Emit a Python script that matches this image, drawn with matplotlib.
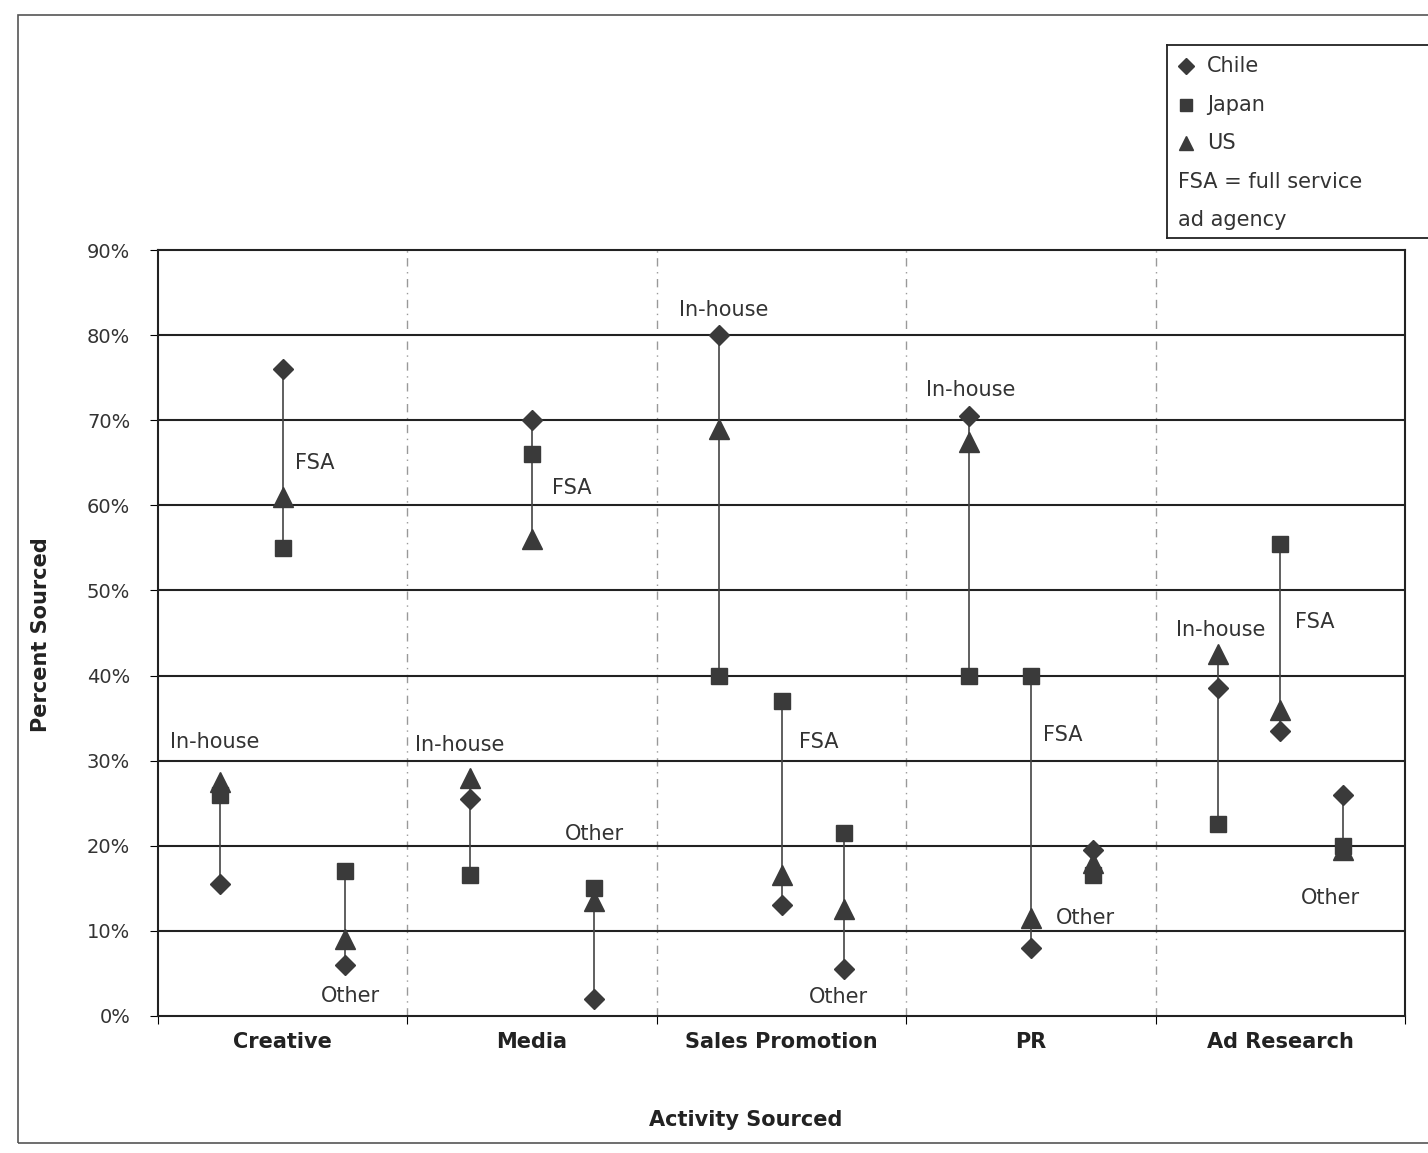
import numpy as np
import matplotlib
matplotlib.use('Agg')
import matplotlib.pyplot as plt
from matplotlib.lines import Line2D
from matplotlib.patches import Rectangle

categories = ['Creative', 'Media', 'Sales Promotion', 'PR', 'Ad Research']
sources = ['In-house', 'FSA', 'Other']
# percent sourced, per category: [In-house, FSA, Other]
chile = [[15.5, 76, 6], [25.5, 70, 2], [80, 13, 5.5], [70.5, 8, 19.5], [38.5, 33.5, 26]]
japan = [[26, 55, 17], [16.5, 66, 15], [40, 37, 21.5], [40, 40, 16.5], [22.5, 55.5, 20]]
us = [[27.5, 61, 9], [28, 56, 13.5], [69, 16.5, 12.5], [67.5, 11.5, 18], [42.5, 36, 19.5]]
# where the source labels sit (x in category units, y in percent)
label_x = [[0.05, 0.55, 0.77], [1.03, 1.58, 1.75], [2.27, 2.57, 2.73], [3.26, 3.55, 3.6], [4.26, 4.56, 4.70]]
label_y = [[32.2, 65, 2.3], [31.8, 62, 21.4], [83, 32.2, 2.2], [73.6, 33, 11.5], [45.4, 46.3, 13.8]]
label_ha = [['left', 'left', 'center'], ['left', 'left', 'center'], ['center', 'left', 'center'],
            ['center', 'left', 'left'], ['center', 'left', 'center']]

offsets = [-0.25, 0.0, 0.25]
mcol = '#3a3a3a'

fig = plt.figure(figsize=(14.28, 11.53), dpi=100)
ax = fig.add_axes([0.1106, 0.119, 0.8734, 0.664])

for i in range(len(categories)):
    for j in range(len(sources)):
        x = i + 0.5 + offsets[j]
        vals = [chile[i][j], japan[i][j], us[i][j]]
        ax.plot([x, x], [min(vals), max(vals)], color='#444444', lw=1.2, zorder=2)
        ax.plot(x, chile[i][j], marker='D', ms=10, color=mcol, ls='none', zorder=3)
        ax.plot(x, japan[i][j], marker='s', ms=12, color=mcol, ls='none', zorder=3)
        ax.plot(x, us[i][j], marker='^', ms=14, color=mcol, ls='none', zorder=3)
        ax.text(label_x[i][j], label_y[i][j], sources[j], fontsize=15, color='#333333',
                ha=label_ha[i][j], va='center', zorder=4)

for k in range(1, len(categories)):
    ax.axvline(k, color='#999999', lw=1, ls=(0, (6, 4, 1, 4)), zorder=1)
for v in range(10, 90, 10):
    ax.axhline(v, color='#222222', lw=1.5, zorder=1)

ax.set_xlim(0, 5)
ax.set_ylim(0, 90)
ax.set_yticks(np.arange(0, 91, 10))
ax.set_yticklabels(['%d%%' % v for v in range(0, 91, 10)], fontsize=14, color='#333333')
ax.set_xticks(np.arange(0, 6, 1))
ax.set_xticklabels([])
ax.set_xticks(np.arange(0.5, 5, 1), minor=True)
ax.set_xticklabels(categories, minor=True, fontsize=15, fontweight='bold', color='#222222')
ax.tick_params(axis='x', which='minor', length=0, pad=12)
ax.tick_params(axis='x', which='major', length=6, direction='out')
ax.tick_params(axis='y', length=6, pad=14)
for s in ax.spines.values():
    s.set_color('#222222')
    s.set_linewidth(1.5)

fig.text(0.029, 0.45, 'Percent Sourced', rotation=90, fontsize=15, fontweight='bold',
         ha='center', va='center', color='#222222')
fig.text(0.522, 0.029, 'Activity Sourced', fontsize=15, fontweight='bold',
         ha='center', va='center', color='#222222')

# outer frame of the figure
fig.add_artist(Rectangle((0.0126, 0.0087), 1.0, 0.978, transform=fig.transFigure,
                         fill=False, ec='#555555', lw=1.2))

# legend box
lax = fig.add_axes([0.817, 0.794, 0.19, 0.167])
lax.set_xlim(0, 1)
lax.set_ylim(0, 5)
lax.set_xticks([])
lax.set_yticks([])
for s in lax.spines.values():
    s.set_color('#222222')
    s.set_linewidth(1.3)
leg_markers = ['D', 's', '^']
leg_names = ['Chile', 'Japan', 'US']
for k in range(3):
    yy = 4.45 - k
    lax.plot(0.07, yy, marker=leg_markers[k], ms=[8, 9, 10][k], color=mcol, ls='none')
    lax.text(0.15, yy, leg_names[k], fontsize=15, va='center', color='#333333')
lax.text(0.04, 1.45, 'FSA = full service', fontsize=15, va='center', color='#333333')
lax.text(0.04, 0.45, 'ad agency', fontsize=15, va='center', color='#333333')

fig.savefig('out.png', dpi=100)
